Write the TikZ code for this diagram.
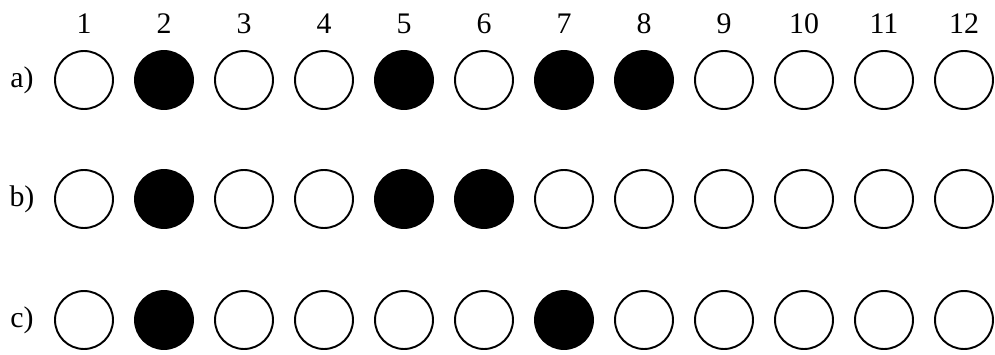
\documentclass[tikz,border=0pt]{standalone}
\usepackage{fontspec}
\setmainfont{Liberation Serif}
\begin{document}
\begin{tikzpicture}[
  x=0.02cm, y=-0.02cm,
  font=\fontsize{17}{20}\selectfont,
  unlit/.style={circle, draw=black, line width=1.1pt, fill=white,
                minimum size=1.16cm, inner sep=0pt},
  lit/.style={unlit, fill=black},
  colnum/.style={anchor=center},
  rowlabel/.style={anchor=center}
]
\useasboundingbox (0,0) rectangle (995,355);

% column numbers
\foreach \k in {1,...,12}
  \node[colnum] (num\k) at ({84+80*(\k-1)},24) {\k};

% rows of holes
\foreach \row/\y/\pattern in {
    a/80/{unlit,lit,unlit,unlit,lit,unlit,lit,lit,unlit,unlit,unlit,unlit},
    b/199/{unlit,lit,unlit,unlit,lit,lit,unlit,unlit,unlit,unlit,unlit,unlit},
    c/320/{unlit,lit,unlit,unlit,unlit,unlit,lit,unlit,unlit,unlit,unlit,unlit}}{
  \node[rowlabel] (row\row) at (22,\y) {\row)};
  \foreach \s [count=\k] in \pattern
    \node[\s] (\row\k) at ({84+80*(\k-1)},\y) {};
}
\end{tikzpicture}
\end{document}
